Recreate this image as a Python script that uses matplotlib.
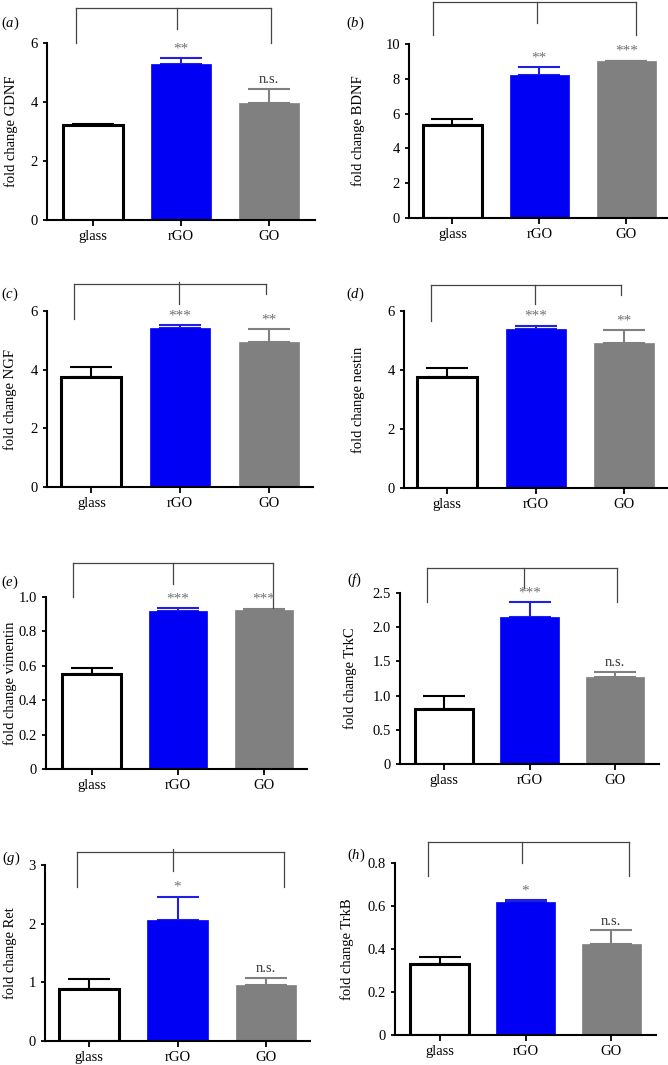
import matplotlib
matplotlib.use('Agg')
import matplotlib.pyplot as plt

plt.rcParams['font.family'] = ['Liberation Serif', 'DejaVu Serif']
plt.rcParams['mathtext.fontset'] = 'custom'
plt.rcParams['mathtext.rm'] = 'Liberation Serif'
plt.rcParams['mathtext.it'] = 'Liberation Serif:italic'

groups = ['glass', 'rGO', 'GO']
genes = ['GDNF', 'BDNF', 'NGF', 'nestin', 'vimentin', 'TrkC', 'Ret', 'TrkB']
panel_letters = ['a', 'b', 'c', 'd', 'e', 'f', 'g', 'h']

gdnf_mean = [3.22, 5.29, 3.96]
gdnf_sem = [0.05, 0.20, 0.49]
bdnf_mean = [5.34, 8.22, 9.00]
bdnf_sem = [0.35, 0.44, 0.05]
ngf_mean = [3.76, 5.42, 4.95]
ngf_sem = [0.32, 0.10, 0.42]
nestin_mean = [3.75, 5.40, 4.93]
nestin_sem = [0.33, 0.10, 0.42]
vim_mean = [0.55, 0.916, 0.926]
vim_sem = [0.04, 0.02, 0.006]
trkc_mean = [0.80, 2.15, 1.27]
trkc_sem = [0.20, 0.22, 0.08]
ret_mean = [0.89, 2.06, 0.95]
ret_sem = [0.16, 0.40, 0.12]
trkb_mean = [0.332, 0.617, 0.425]
trkb_sem = [0.031, 0.009, 0.062]

gdnf_sig = ['', '**', 'n.s.']
bdnf_sig = ['', '**', '***']
ngf_sig = ['', '***', '**']
nestin_sig = ['', '***', '**']
vim_sig = ['', '***', '***']
trkc_sig = ['', '***', 'n.s.']
ret_sig = ['', '*', 'n.s.']
trkb_sig = ['', '*', 'n.s.']

gdnf_ticks = [0, 2, 4, 6]
bdnf_ticks = [0, 2, 4, 6, 8, 10]
ngf_ticks = [0, 2, 4, 6]
nestin_ticks = [0, 2, 4, 6]
vim_ticks = [0, 0.2, 0.4, 0.6, 0.8, 1.0]
trkc_ticks = [0, 0.5, 1.0, 1.5, 2.0, 2.5]
ret_ticks = [0, 1, 2, 3]
trkb_ticks = [0, 0.2, 0.4, 0.6, 0.8]

means = [gdnf_mean, bdnf_mean, ngf_mean, nestin_mean, vim_mean, trkc_mean, ret_mean, trkb_mean]
sems = [gdnf_sem, bdnf_sem, ngf_sem, nestin_sem, vim_sem, trkc_sem, ret_sem, trkb_sem]
sigs = [gdnf_sig, bdnf_sig, ngf_sig, nestin_sig, vim_sig, trkc_sig, ret_sig, trkb_sig]
ticks = [gdnf_ticks, bdnf_ticks, ngf_ticks, nestin_ticks, vim_ticks, trkc_ticks, ret_ticks, trkb_ticks]

# layout (pixels): axes box x0, ytop, x1, ybottom
W, H = 668, 1065
boxes = [(47, 43, 315, 220), (409, 44, 668, 218),
         (47, 311, 313, 487), (404, 311, 668, 488),
         (46, 597, 307, 769), (400, 593, 659, 764),
         (45, 865, 310, 1041), (395, 863, 656, 1035)]
xlims = [(-0.52, 2.52), (-0.5, 2.48), (-0.5, 2.5), (-0.49, 2.5),
         (-0.53, 2.5), (-0.51, 2.51), (-0.5, 2.5), (-0.52, 2.52)]
# bracket: x left, x mid, x right, y top, left leg end, mid leg end, right leg end, mid top
brackets = [(-0.19, 0.955, 2.02, 7.19, 6.0, 6.47, 6.0, 7.19),
            (-0.22, 0.97, 2.11, 12.4, 10.5, 11.2, 10.5, 12.4),
            (-0.19, 0.99, 1.97, 6.92, 5.73, 6.24, 6.58, 6.99),
            (-0.18, 0.99, 1.97, 6.88, 5.66, 6.24, 6.54, 6.88),
            (-0.22, 0.94, 2.10, 1.198, 1.0, 1.076, 0.936, 1.198),
            (-0.19, 0.94, 2.02, 2.865, 2.37, 2.57, 2.37, 2.865),
            (-0.14, 0.95, 2.20, 3.22, 2.62, 2.90, 2.62, 3.27),
            (-0.14, 0.965, 2.20, 0.898, 0.74, 0.80, 0.74, 0.898)]
label_pos = [(1, 23), (346, 23), (1, 294), (346, 294),
             (1, 582), (347, 580), (2, 858), (347, 855)]
ylabel_x = [11.5, 358, 10, 358, 10, 350.5, 10, 347.5]

face = ['white', '#0000f5', '#808080']
edge = ['black', '#0000f5', '#808080']
err_col = ['black', '#2020e0', '#808080']

fig = plt.figure(figsize=(W / 100, H / 100), dpi=100)

for i in range(8):
    x0, yt, x1, yb = boxes[i]
    ax = fig.add_axes([x0 / W, 1 - yb / H, (x1 - x0) / W, (yb - yt) / H])
    xs = range(len(groups))
    for j in xs:
        ax.bar(j, means[i][j], width=0.68, color=face[j], edgecolor=edge[j],
               linewidth=2.2 if j == 0 else 0.5, zorder=2)
        ax.errorbar(j, means[i][j], yerr=[[0], [sems[i][j]]], fmt='none',
                    ecolor=err_col[j], elinewidth=1.5, capsize=15, capthick=1.5, zorder=1)
        s = sigs[i][j]
        if s:
            col = '#333333' if s == 'n.s.' else '#707070'
            ax.annotate(s, (j, means[i][j] + sems[i][j]), xytext=(0, 2),
                        textcoords='offset points', ha='center', va='bottom',
                        fontsize=10.5 if s == 'n.s.' else 11, color=col)
    ax.set_xlim(*xlims[i])
    ax.set_ylim(0, ticks[i][-1])
    ax.set_yticks(ticks[i])
    ax.set_yticklabels(['0' if t == 0 else (f'{t:.1f}' if isinstance(t, float) else str(t))
                        for t in ticks[i]])
    ax.set_xticks(list(xs))
    ax.set_xticklabels(groups)
    ax.set_ylabel('fold change ' + genes[i], fontsize=10.5)
    ax.yaxis.set_label_coords((ylabel_x[i] + 7 - x0) / (x1 - x0), 0.5)
    for side in ['top', 'right']:
        ax.spines[side].set_visible(False)
    for side in ['left', 'bottom']:
        ax.spines[side].set_linewidth(1.5)
    ax.tick_params(axis='both', labelsize=10.5, width=1.3, direction='out')
    ax.tick_params(axis='y', length=3)
    ax.tick_params(axis='x', length=4)

    bl, bm, br, btop, l_end, m_end, r_end, m_top = brackets[i]
    kw = dict(color='#444444', lw=0.9, clip_on=False)
    ax.plot([bl, br], [btop, btop], **kw)
    ax.plot([bl, bl], [btop, l_end], **kw)
    ax.plot([br, br], [btop, r_end], **kw)
    ax.plot([bm, bm], [m_top, m_end], **kw)

    lx, ly = label_pos[i]
    fig.text(lx / W, 1 - ly / H, '(' + r'$\mathit{' + panel_letters[i] + '}$' + ')',
             fontsize=10.5, ha='left', va='center')

fig.savefig('out.png', dpi=100)
